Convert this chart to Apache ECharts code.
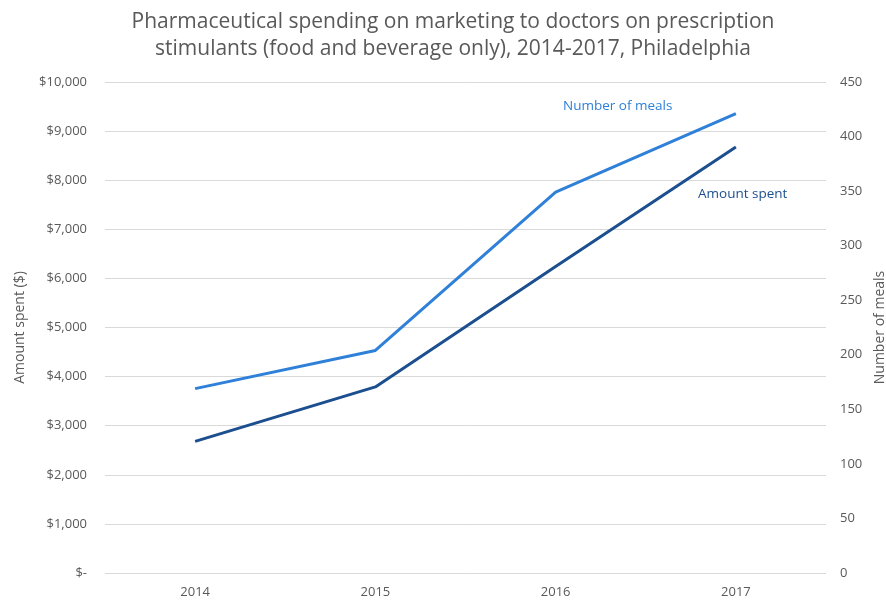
<!DOCTYPE html>
<html>
<head>
<meta charset="utf-8">
<script src="https://cdn.jsdelivr.net/npm/echarts@6/dist/echarts.min.js"></script>
<style>
html,body{margin:0;padding:0;background:#fff;}
#chart{width:886px;height:601px;}
</style>
</head>
<body>
<div id="chart"></div>
<script>
const years = ['2014', '2015', '2016', '2017'];
const amountSpent = [2680, 3790, 6240, 8675];
const numberOfMeals = [169, 204, 349, 421];
const titleText = 'Pharmaceutical spending on marketing to doctors on prescription\nstimulants (food and beverage only), 2014-2017, Philadelphia';

const FONT = '"Open Sans", sans-serif';
const GREY = '#595959';
const LIGHT = '#2f80d8';
const DARK = '#1c4f8f';

const chart = echarts.init(document.getElementById('chart'));
chart.setOption({
  animation: false,
  backgroundColor: '#fff',
  textStyle: { fontFamily: FONT },
  title: {
    text: titleText,
    left: 448,
    top: 4,
    textAlign: 'center',
    textStyle: { fontFamily: FONT, fontSize: 21, fontWeight: 'normal', color: GREY, lineHeight: 27 }
  },
  grid: { left: 105, right: 60, top: 82, bottom: 28, containLabel: false, outerBoundsMode: 'none' },
  xAxis: {
    type: 'category',
    data: years,
    boundaryGap: true,
    axisLine: { show: false },
    axisTick: { show: false },
    axisLabel: { color: GREY, fontSize: 13, margin: 13, fontFamily: FONT }
  },
  yAxis: [
    {
      type: 'value',
      min: 0, max: 10000, interval: 1000,
      name: 'Amount spent ($)',
      nameLocation: 'middle',
      nameGap: 78,
      nameTextStyle: { color: GREY, fontSize: 14, fontFamily: FONT },
      axisLine: { show: false },
      axisTick: { show: false },
      splitLine: { lineStyle: { color: '#d9d9d9', width: 1 } },
      axisLabel: {
        color: GREY, fontSize: 13, margin: 18, fontFamily: FONT,
        formatter: v => v === 0 ? '$-' : '$' + v.toLocaleString('en-US')
      }
    },
    {
      type: 'value',
      min: 0, max: 450, interval: 50,
      name: 'Number of meals',
      nameLocation: 'middle',
      nameGap: 44,
      nameTextStyle: { color: GREY, fontSize: 14, fontFamily: FONT },
      axisLine: { show: false },
      axisTick: { show: false },
      splitLine: { show: false },
      axisLabel: { color: GREY, fontSize: 13, margin: 14, fontFamily: FONT }
    }
  ],
  series: [
    {
      name: 'Number of meals',
      type: 'line',
      yAxisIndex: 1,
      data: numberOfMeals,
      symbol: 'none',
      lineStyle: { color: LIGHT, width: 3 },
      itemStyle: { color: LIGHT }
    },
    {
      name: 'Amount spent',
      type: 'line',
      yAxisIndex: 0,
      data: amountSpent,
      symbol: 'none',
      lineStyle: { color: DARK, width: 3 },
      itemStyle: { color: DARK }
    }
  ],
  graphic: [
    {
      type: 'text', left: 563, top: 99,
      style: { text: 'Number of meals', fill: LIGHT, font: '13.5px ' + FONT }
    },
    {
      type: 'text', left: 698, top: 187,
      style: { text: 'Amount spent', fill: DARK, font: '13.5px ' + FONT }
    }
  ]
});
</script>
</body>
</html>
